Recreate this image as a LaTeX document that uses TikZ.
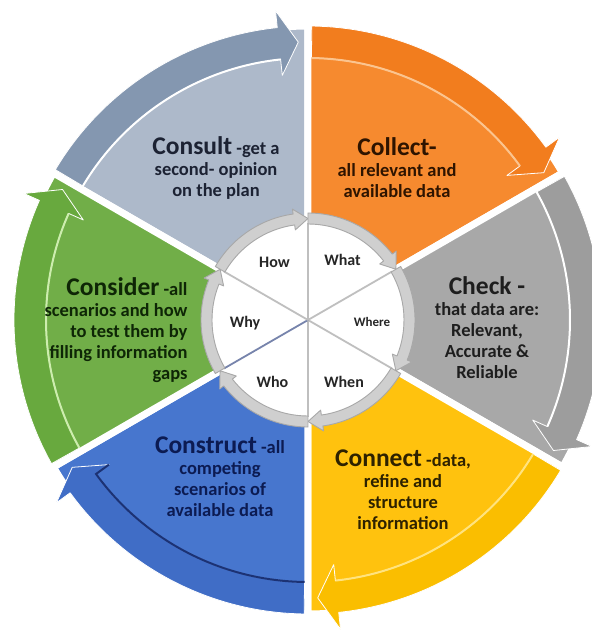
\documentclass[tikz,border=0pt]{standalone}
\usepackage{fontspec}
\setmainfont{Carlito}

\definecolor{consultlight}{HTML}{ADB9CA}
\definecolor{consultdark}{HTML}{8497B0}
\definecolor{consulttext}{HTML}{1C2233}
\definecolor{collectorange}{HTML}{F68A2F}
\definecolor{collectband}{HTML}{F27D1E}
\definecolor{collectline}{HTML}{FBC48F}
\definecolor{collecttext}{HTML}{2E1400}
\definecolor{checkgray}{HTML}{A8A8A8}
\definecolor{checkband}{HTML}{9D9D9D}
\definecolor{checktext}{HTML}{1E1E1E}
\definecolor{connectgold}{HTML}{FFC20E}
\definecolor{connectband}{HTML}{FABE00}
\definecolor{connectline}{HTML}{FFE37F}
\definecolor{connecttext}{HTML}{2E2200}
\definecolor{constructblue}{HTML}{4776CE}
\definecolor{constructband}{HTML}{406DC6}
\definecolor{constructline}{HTML}{1C3274}
\definecolor{constructtext}{HTML}{0C1B52}
\definecolor{considergreen}{HTML}{71AE48}
\definecolor{considerband}{HTML}{68A93E}
\definecolor{considerline}{HTML}{CDEDAE}
\definecolor{considertext}{HTML}{0E2606}

\tikzset{
  wedge/.style={draw=white, line width=7pt},
  band/.style={draw=white, line width=0.8pt, line join=round},
  bandline/.style={line width=2pt},
  ringarrow/.style={fill=gray!38, draw=gray!68, line width=0.9pt, line join=round},
  spoke/.style={draw=gray!50, line width=1.8pt},
  qword/.style={font=\bfseries\fontsize{16}{18}\selectfont, text=black!85},
  blurb/.style={align=center, font=\bfseries\fontsize{18.5}{21}\selectfont}
}
\newcommand{\hd}[1]{{\fontsize{25.5}{21}\selectfont #1}}

\begin{document}
\begin{tikzpicture}[x=1pt, y=1pt]
\useasboundingbox (-308,-315) rectangle (284,320);

% pie wedges
\filldraw[wedge, fill=consultlight] (0,0) -- (150:294) arc[start angle=150, end angle=90, radius=294] -- cycle;
\filldraw[wedge, fill=collectorange] (0,0) -- (90:294) arc[start angle=90, end angle=30, radius=294] -- cycle;
\filldraw[wedge, fill=checkgray] (0,0) -- (30:294) arc[start angle=30, end angle=-30, radius=294] -- cycle;
\filldraw[wedge, fill=connectgold] (0,0) -- (-30:294) arc[start angle=-30, end angle=-90, radius=294] -- cycle;
\filldraw[wedge, fill=constructblue] (0,0) -- (-90:294) arc[start angle=-90, end angle=-150, radius=294] -- cycle;
\filldraw[wedge, fill=considergreen] (0,0) -- (210:294) arc[start angle=210, end angle=150, radius=294] -- cycle;

% curved arrows round the rim
\filldraw[band, fill=consultdark] (149.25:262) arc[start angle=149.25, end angle=96, radius=262] -- (96:246) -- (92:278) -- (96:311) -- (96:294) arc[start angle=96, end angle=149.25, radius=294] -- cycle;
\filldraw[band, fill=collectband] (89.25:262) arc[start angle=89.25, end angle=36, radius=262] -- (36:246) -- (32:278) -- (36:311) -- (36:294) arc[start angle=36, end angle=89.25, radius=294] -- cycle;
\filldraw[band, fill=checkband] (29.25:262) arc[start angle=29.25, end angle=-24, radius=262] -- (-24:246) -- (-28:278) -- (-24:311) -- (-24:294) arc[start angle=-24, end angle=29.25, radius=294] -- cycle;
\filldraw[band, fill=connectband] (-30.75:262) arc[start angle=-30.75, end angle=-84, radius=262] -- (-84:246) -- (-88:278) -- (-84:311) -- (-84:294) arc[start angle=-84, end angle=-30.75, radius=294] -- cycle;
\filldraw[band, fill=constructband] (-90.75:262) arc[start angle=-90.75, end angle=-144, radius=262] -- (-144:246) -- (-148:278) -- (-144:311) -- (-144:294) arc[start angle=-144, end angle=-90.75, radius=294] -- cycle;
\filldraw[band, fill=considerband] (209.25:262) arc[start angle=209.25, end angle=156, radius=262] -- (156:246) -- (152:278) -- (156:311) -- (156:294) arc[start angle=156, end angle=209.25, radius=294] -- cycle;

\draw[bandline, white] (149.25:262) arc[start angle=149.25, end angle=96, radius=262];
\draw[bandline, collectline] (89.25:262) arc[start angle=89.25, end angle=36, radius=262];
\draw[bandline, white] (29.25:262) arc[start angle=29.25, end angle=-24, radius=262];
\draw[bandline, connectline] (-30.75:262) arc[start angle=-30.75, end angle=-84, radius=262];
\draw[bandline, constructline] (-90.75:262) arc[start angle=-90.75, end angle=-144, radius=262] -- (-144:246);
\draw[bandline, considerline] (209.25:262) arc[start angle=209.25, end angle=156, radius=262];

% texts of the six steps
\node[blurb, text=consulttext] (consult) at (-92,152) {\hd{Consult} -get a\\second- opinion\\on the plan};
\node[blurb, text=collecttext] (collect) at (89,152) {\hd{Collect-}\\all relevant and\\available data};
\node[blurb, text=checktext] (check) at (179,-8) {\hd{Check -}\\that data are:\\Relevant,\\Accurate \&\\Reliable};
\node[blurb, text=connecttext] (connect) at (95,-170) {\hd{Connect} -data,\\refine and\\structure\\information};
\node[blurb, text=constructtext] (construct) at (-88,-157) {\hd{Construct} -all\\competing\\scenarios of\\available data};
\node[blurb, align=right, anchor=east, text=considertext] (consider) at (-117,-10) {\hd{Consider} -all\\scenarios and how\\to test them by\\filling information\\gaps};

% hub
\fill[white] (0,0) circle[radius=102];
\draw[spoke] (0,0) -- (90:97);
\draw[spoke] (0,0) -- (30:97);
\draw[spoke] (0,0) -- (-30:97);
\draw[spoke] (0,0) -- (-90:97);
\draw[spoke, draw=constructline!60] (0,0) -- (-150:97);
\draw[spoke] (0,0) -- (150:97);
\filldraw[ringarrow] (150:96) arc[start angle=150, end angle=98, radius=96] -- (98:91) -- (90:101.5) -- (98:112) -- (98:107) arc[start angle=98, end angle=150, radius=107] -- cycle;
\filldraw[ringarrow] (90:96) arc[start angle=90, end angle=38, radius=96] -- (38:91) -- (30:101.5) -- (38:112) -- (38:107) arc[start angle=38, end angle=90, radius=107] -- cycle;
\filldraw[ringarrow] (30:96) arc[start angle=30, end angle=-22, radius=96] -- (-22:91) -- (-30:101.5) -- (-22:112) -- (-22:107) arc[start angle=-22, end angle=30, radius=107] -- cycle;
\filldraw[ringarrow] (-30:96) arc[start angle=-30, end angle=-82, radius=96] -- (-82:91) -- (-90:101.5) -- (-82:112) -- (-82:107) arc[start angle=-82, end angle=-30, radius=107] -- cycle;
\filldraw[ringarrow] (-90:96) arc[start angle=-90, end angle=-142, radius=96] -- (-142:91) -- (-150:101.5) -- (-142:112) -- (-142:107) arc[start angle=-142, end angle=-90, radius=107] -- cycle;
\filldraw[ringarrow] (210:96) arc[start angle=210, end angle=158, radius=96] -- (158:91) -- (150:101.5) -- (158:112) -- (158:107) arc[start angle=158, end angle=210, radius=107] -- cycle;

\node[qword] (how) at (120:67) {How};
\node[qword] (what) at (60:69) {What};
\node[qword, font=\bfseries\fontsize{13}{15}\selectfont] (where) at (64,-2) {Where};
\node[qword] (when) at (-60:72) {When};
\node[qword] (who) at (-120:71) {Who};
\node[qword] (why) at (-63,-3) {Why};
\end{tikzpicture}
\end{document}
